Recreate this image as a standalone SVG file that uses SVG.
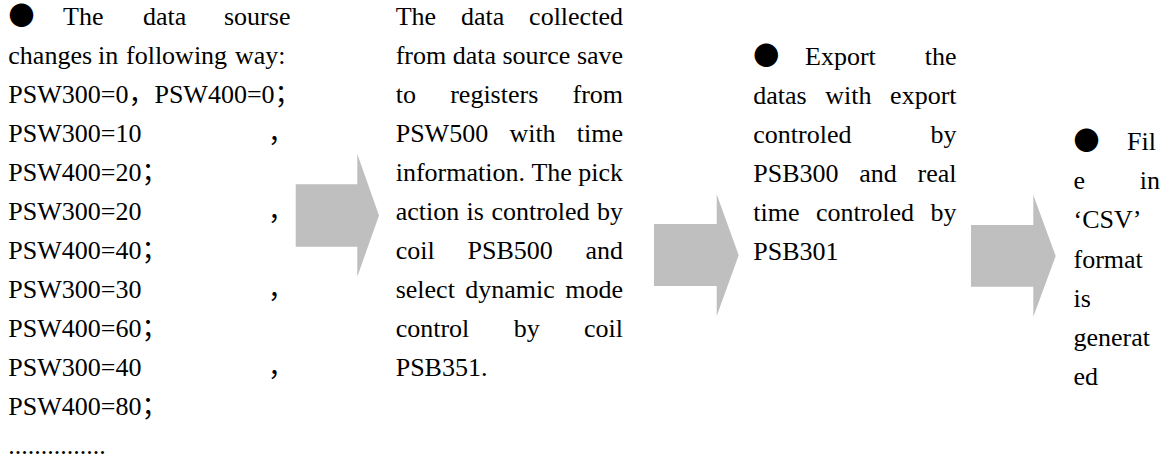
<svg xmlns="http://www.w3.org/2000/svg" width="1169" height="458" viewBox="0 0 1169 458">
<style>
.t{font-family:"Liberation Serif","Noto Sans CJK SC",serif;font-size:26px;fill:#000}
.b{font-family:"Noto Sans CJK SC",sans-serif}
.arrow{fill:#bfbfbf;stroke:none}
</style>
<rect width="1169" height="458" fill="#fff"/>
<g id="connectors">
<polygon class="arrow" points="295.7,184.3 357.3,184.3 357.3,154 379,215.4 357.3,276.7 357.3,246.7 295.7,246.7"/>
<polygon class="arrow" points="654,224 716.7,224 716.7,194.3 738.7,255.2 716.7,316 716.7,286 654,286"/>
<polygon class="arrow" points="971,225 1033.3,225 1033.3,195 1055.7,255.9 1033.3,316.7 1033.3,286.7 971,286.7"/>
</g>
<g id="node-source">
<text class="t" y="24.5"><tspan class="b" x="8.5">●</tspan><tspan x="63">The</tspan><tspan x="143">data</tspan><tspan x="224">sourse</tspan></text>
<text class="t" y="63.5"><tspan x="8.3">changes</tspan><tspan x="98">in</tspan><tspan x="126">following</tspan><tspan x="235">way:</tspan></text>
<text class="t" x="8.3" y="102.5">PSW300=0，PSW400=0；</text>
<text class="t" y="141.5"><tspan x="8.3">PSW300=10</tspan><tspan x="268">，</tspan></text>
<text class="t" x="8.3" y="180.5">PSW400=20；</text>
<text class="t" y="219.5"><tspan x="8.3">PSW300=20</tspan><tspan x="268">，</tspan></text>
<text class="t" x="8.3" y="258.5">PSW400=40；</text>
<text class="t" y="297.5"><tspan x="8.3">PSW300=30</tspan><tspan x="268">，</tspan></text>
<text class="t" x="8.3" y="336.5">PSW400=60；</text>
<text class="t" y="375.5"><tspan x="8.3">PSW300=40</tspan><tspan x="268">，</tspan></text>
<text class="t" x="8.3" y="414.5">PSW400=80；</text>
<text class="t" x="8.3" y="453.5">...............</text>
</g>
<g id="node-collect">
<text class="t" y="24.5"><tspan x="395.7">The</tspan><tspan x="461">data</tspan><tspan x="529.1">collected</tspan></text>
<text class="t" y="63.5"><tspan x="395.7">from</tspan><tspan x="452.7">data</tspan><tspan x="502.5">source</tspan><tspan x="576.9">save</tspan></text>
<text class="t" y="102.5"><tspan x="395.7">to</tspan><tspan x="450.2">registers</tspan><tspan x="572.5">from</tspan></text>
<text class="t" y="141.5"><tspan x="395.7">PSW500</tspan><tspan x="509.4">with</tspan><tspan x="576.8">time</tspan></text>
<text class="t" y="180.5"><tspan x="395.7">information.</tspan><tspan x="531.4">The</tspan><tspan x="578.2">pick</tspan></text>
<text class="t" y="219.5"><tspan x="395.7">action</tspan><tspan x="466.6">is</tspan><tspan x="491.4">controled</tspan><tspan x="597">by</tspan></text>
<text class="t" y="258.5"><tspan x="395.7">coil</tspan><tspan x="467.5">PSB500</tspan><tspan x="585.5">and</tspan></text>
<text class="t" y="297.5"><tspan x="395.7">select</tspan><tspan x="465.3">dynamic</tspan><tspan x="565.2">mode</tspan></text>
<text class="t" y="336.5"><tspan x="395.7">control</tspan><tspan x="513.7">by</tspan><tspan x="584">coil</tspan></text>
<text class="t" x="395.7" y="375.5">PSB351.</text>
</g>
<g id="node-export">
<text class="t" y="65"><tspan class="b" x="753.3">●</tspan><tspan x="805">Export</tspan><tspan x="924.7">the</tspan></text>
<text class="t" y="104"><tspan x="753.3">datas</tspan><tspan x="825.3">with</tspan><tspan x="890.1">export</tspan></text>
<text class="t" y="143"><tspan x="753.3">controled</tspan><tspan x="930.5">by</tspan></text>
<text class="t" y="182"><tspan x="753.3">PSB300</tspan><tspan x="859.3">and</tspan><tspan x="917.5">real</tspan></text>
<text class="t" y="221"><tspan x="753.3">time</tspan><tspan x="815.9">controled</tspan><tspan x="930.5">by</tspan></text>
<text class="t" x="753.3" y="260">PSB301</text>
</g>
<g id="node-csv">
<text class="t" y="150"><tspan class="b" x="1073.5">●</tspan><tspan x="1127">Fil</tspan></text>
<text class="t" y="189.2"><tspan x="1073.5">e</tspan><tspan x="1139.8">in</tspan></text>
<text class="t" x="1073.5" y="228.4">‘CSV’</text>
<text class="t" x="1073.5" y="267.6">format</text>
<text class="t" x="1073.5" y="306.8">is</text>
<text class="t" x="1073.5" y="346">generat</text>
<text class="t" x="1073.5" y="385.2">ed</text>
</g>
</svg>
